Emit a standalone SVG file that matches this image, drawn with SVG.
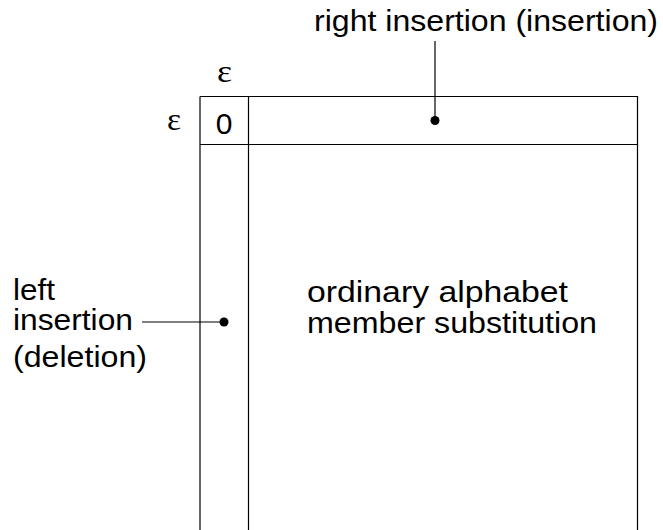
<svg xmlns="http://www.w3.org/2000/svg" width="663" height="530" viewBox="0 0 663 530">
<style>
.t{font-family:"Liberation Sans",Arial,sans-serif;font-size:30px;fill:#000}
.e{font-family:"Liberation Serif","Times New Roman",serif;font-size:31px;fill:#000}
.g{fill:none;stroke:#000;stroke-width:1.2}
.l{fill:none;stroke:#000;stroke-width:1.2}
</style>
<rect width="663" height="530" fill="#fff"/>
<g id="matrix">
<line class="g" x1="200" y1="96.5" x2="200" y2="530" stroke="#444"/>
<line class="g" x1="248.5" y1="96" x2="248.5" y2="530"/>
<line class="g" x1="637.5" y1="96" x2="637.5" y2="530"/>
<line class="g" x1="200" y1="96.5" x2="638" y2="96.5"/>
<line class="g" x1="200" y1="144.5" x2="638" y2="144.5"/>
</g>
<g id="headers">
<text class="e" x="217" y="82" textLength="15" lengthAdjust="spacingAndGlyphs">ε</text>
<text class="e" x="167" y="130" textLength="14" lengthAdjust="spacingAndGlyphs">ε</text>
<text class="t" x="224" y="133.5" font-size="35" text-anchor="middle">0</text>
</g>
<g id="right-insertion">
<text class="t" x="314" y="31" textLength="344" lengthAdjust="spacingAndGlyphs">right insertion (insertion)</text>
</g>
<g id="left-insertion">
<text class="t" x="13" y="300" textLength="42" lengthAdjust="spacingAndGlyphs">left</text>
<text class="t" x="13" y="330" textLength="120" lengthAdjust="spacingAndGlyphs">insertion</text>
<text class="t" x="13" y="367" textLength="134" lengthAdjust="spacingAndGlyphs">(deletion)</text>
</g>
<g id="substitution">
<text class="t" x="307" y="301.5" textLength="261" lengthAdjust="spacingAndGlyphs">ordinary alphabet</text>
<text class="t" x="307" y="333" textLength="290" lengthAdjust="spacingAndGlyphs">member substitution</text>
</g>
<g id="connectors">
<line class="l" x1="435" y1="41" x2="435" y2="120.5"/>
<circle cx="435" cy="120.5" r="4.5"/>
<line class="l" x1="142" y1="322" x2="224" y2="322"/>
<circle cx="224" cy="322" r="4.5"/>
</g>
</svg>
